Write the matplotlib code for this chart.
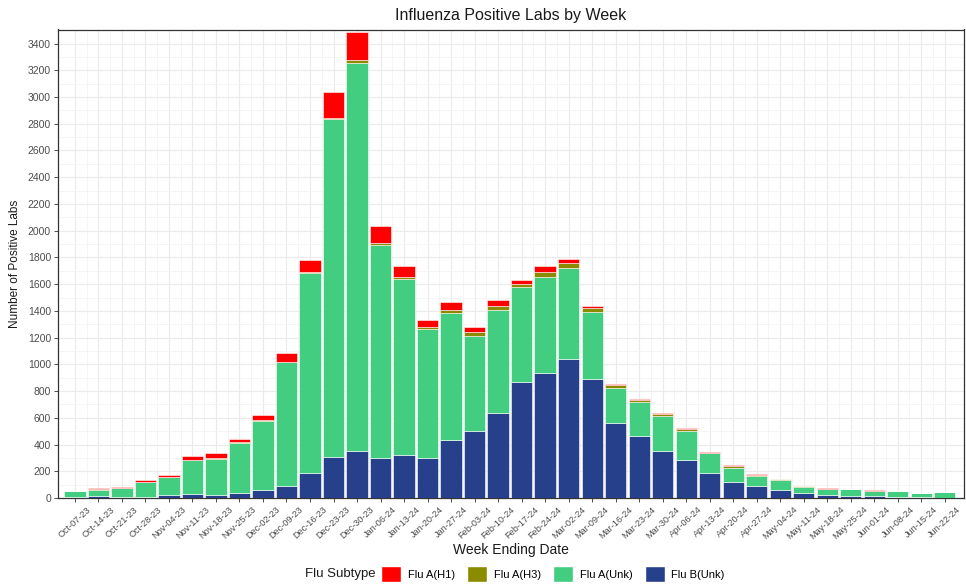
# Influenza positive labs by week - stacked bars

import matplotlib
matplotlib.use('Agg')
import matplotlib.pyplot as plt
from matplotlib.patches import Patch
import numpy as np

#**** dane
weeks = ['Oct-07-23', 'Oct-14-23', 'Oct-21-23', 'Oct-28-23', 'Nov-04-23', 'Nov-11-23',
         'Nov-18-23', 'Nov-25-23', 'Dec-02-23', 'Dec-09-23', 'Dec-16-23', 'Dec-23-23',
         'Dec-30-23', 'Jan-06-24', 'Jan-13-24', 'Jan-20-24', 'Jan-27-24', 'Feb-03-24',
         'Feb-10-24', 'Feb-17-24', 'Feb-24-24', 'Mar-02-24', 'Mar-09-24', 'Mar-16-24',
         'Mar-23-24', 'Mar-30-24', 'Apr-06-24', 'Apr-13-24', 'Apr-20-24', 'Apr-27-24',
         'May-04-24', 'May-11-24', 'May-18-24', 'May-25-24', 'Jun-01-24', 'Jun-08-24',
         'Jun-15-24', 'Jun-22-24']

flu_b_unk = [10, 17, 10, 7, 25, 30, 22, 35, 60, 90, 187, 309, 349, 297, 324, 297, 434, 502,
             636, 871, 938, 1041, 891, 564, 467, 354, 284, 187, 117, 92, 62, 40, 25, 17,
             12, 10, 5, 3]
flu_a_unk = [39, 45, 65, 112, 133, 254, 272, 378, 518, 925, 1493, 2527, 2909, 1593, 1311, 964,
             949, 711, 772, 707, 714, 682, 497, 260, 254, 257, 218, 147, 110, 73, 73, 45, 45,
             48, 38, 42, 35, 44]
flu_a_h3 = [0, 4, 3, 3, 2, 3, 3, 4, 6, 5, 8, 10, 17, 17, 17, 15, 20, 30, 25, 20, 38, 34, 30,
            20, 13, 15, 12, 5, 10, 7, 5, 3, 1, 1, 0, 0, 0, 0]
flu_a_h1 = [1, 6, 7, 15, 12, 27, 40, 27, 38, 68, 95, 195, 208, 130, 80, 53, 60, 33, 50, 30, 42,
            33, 22, 10, 10, 10, 10, 8, 10, 8, 2, 4, 1, 1, 10, 0, 0, 0]

subtypes = ['Flu A(H1)', 'Flu A(H3)', 'Flu A(Unk)', 'Flu B(Unk)']
colors = {'Flu A(H1)': '#FF0000', 'Flu A(H3)': '#8B8B00',
          'Flu A(Unk)': '#43CD80', 'Flu B(Unk)': '#27408B'}

#**** wykres
plt.rcParams['font.family'] = ['Liberation Sans', 'DejaVu Sans']
fig, ax = plt.subplots(figsize=(9.66, 5.86), dpi=100)
fig.subplots_adjust(left=58/966, right=963.5/966, top=1-29.5/586, bottom=1-498/586)

x = np.arange(len(weeks))
bottom = np.zeros(len(weeks))
# od dolu: B, A(Unk), A(H3), A(H1)
for name, vals in [('Flu B(Unk)', flu_b_unk), ('Flu A(Unk)', flu_a_unk),
                   ('Flu A(H3)', flu_a_h3), ('Flu A(H1)', flu_a_h1)]:
    ax.bar(x, vals, bottom=bottom, width=0.9, color=colors[name],
           edgecolor='white', linewidth=0.4, zorder=3)
    bottom = bottom + np.array(vals)

ax.set_xlim(-0.72, len(weeks) - 0.2)
ax.set_ylim(0, 3505)
ax.set_yticks(np.arange(0, 3401, 200))
ax.set_yticks(np.arange(100, 3501, 200), minor=True)
ax.set_xticks(x)
ax.set_xticks(x[:-1] + 0.5, minor=True)
ax.set_xticklabels(weeks, rotation=43, ha='center', va='top', fontsize=6.6)

ax.grid(which='major', color='#EBEBEB', linewidth=0.8, zorder=0)
ax.grid(which='minor', color='#F2F2F2', linewidth=0.5, zorder=0)
ax.tick_params(which='major', length=3, width=0.6, color='#333333',
               labelcolor='#4D4D4D', pad=2)
ax.tick_params(axis='y', labelsize=7.5)
ax.tick_params(axis='x', pad=2)
ax.tick_params(which='minor', length=0)
for sp in ax.spines.values():
    sp.set_color('#333333')
    sp.set_linewidth(0.9)

ax.set_title('Influenza Positive Labs by Week', fontsize=11.5, color='#1A1A1A', pad=7)
ax.set_xlabel('Week Ending Date', fontsize=10, color='#1A1A1A', labelpad=1)
ax.set_ylabel('Number of Positive Labs', fontsize=8.5, color='#1A1A1A', labelpad=5)

#**** legenda
handles = [Patch(facecolor=colors[s], edgecolor='white') for s in subtypes]
fig.legend(handles, subtypes, loc='center left', bbox_to_anchor=(381/966, 1-574/586),
           ncol=4, frameon=False, fontsize=8, handlelength=1.8, handleheight=1.9,
           handletextpad=0.6, columnspacing=1.1, borderaxespad=0, borderpad=0)
fig.text(305/966, 1-574/586, 'Flu Subtype', fontsize=9.5, color='#1A1A1A', va='center')

plt.savefig('out.png', dpi=100)
